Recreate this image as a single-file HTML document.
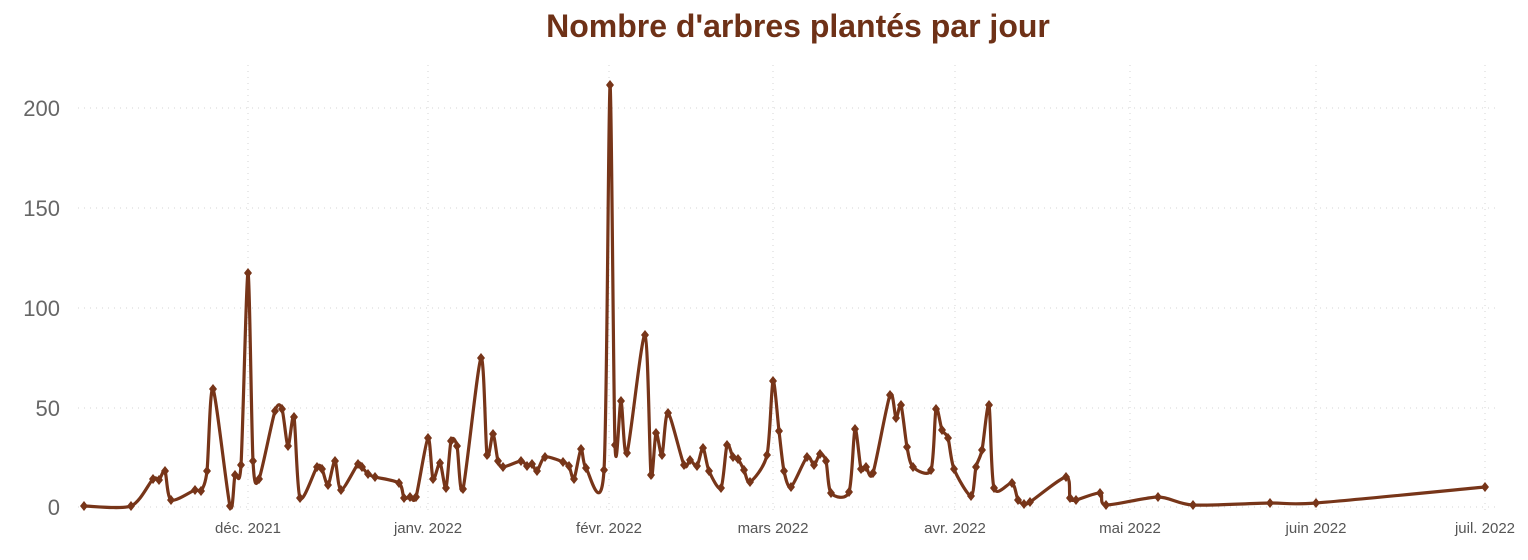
<!DOCTYPE html>
<html><head><meta charset="utf-8"><style>
body{margin:0;background:#fff;width:1528px;height:555px;overflow:hidden;font-family:"Liberation Sans",sans-serif}
</style></head><body>
<svg id="s" width="1528" height="555" xmlns="http://www.w3.org/2000/svg">
<text x="798" y="37" text-anchor="middle" font-family="Liberation Sans, sans-serif" font-weight="bold" font-size="32" fill="#6e3117">Nombre d'arbres plantés par jour</text>
<g stroke="#d6d6d6" stroke-width="1" stroke-dasharray="1,5">
<line x1="78" x2="1500" y1="108" y2="108"/><line x1="78" x2="1500" y1="208" y2="208"/>
<line x1="78" x2="1500" y1="308" y2="308"/><line x1="78" x2="1500" y1="408" y2="408"/>
<line x1="78" x2="1500" y1="507" y2="507"/>
<line x1="248" x2="248" y1="65" y2="510"/><line x1="428" x2="428" y1="65" y2="510"/>
<line x1="609" x2="609" y1="65" y2="510"/><line x1="773" x2="773" y1="65" y2="510"/>
<line x1="955" x2="955" y1="65" y2="510"/><line x1="1130" x2="1130" y1="65" y2="510"/>
<line x1="1316" x2="1316" y1="65" y2="510"/><line x1="1485" x2="1485" y1="65" y2="510"/>
</g>
<g font-size="22" fill="#666" text-anchor="end">
<text x="60" y="116">200</text><text x="60" y="216">150</text><text x="60" y="316">100</text>
<text x="60" y="416">50</text><text x="60" y="515">0</text></g>
<g font-size="15" fill="#555" text-anchor="middle">
<text x="248" y="533">déc. 2021</text><text x="428" y="533">janv. 2022</text>
<text x="609" y="533">févr. 2022</text><text x="773" y="533">mars 2022</text>
<text x="955" y="533">avr. 2022</text><text x="1130" y="533">mai 2022</text>
<text x="1316" y="533">juin 2022</text><text x="1485" y="533">juil. 2022</text></g>
<path id="ln" fill="none" stroke="#773519" stroke-width="3.2" stroke-linejoin="round"/>
<g id="mk" fill="#773519"></g>
</svg>
<script>
var P=[[84,506],[131,506],[153,479],[159,480],[165,471],[171,500],[195,490],[201,491],[207,471],[213,389],[230,506],[235,475],[241,465],[248,273],[253,461],[259,479],[275,411],[282,409],[288,446],[294,417],[300,498],[317,467],[322,469],[328,485],[335,461],[341,490],[358,464],[362,467],[368,474],[375,477],[399,483],[404,498],[410,497],[416,497],[428,438],[433,479],[440,463],[446,488],[451,441],[457,446],[463,489],[481,358],[487,455],[493,434],[498,461],[503,467],[521,461],[527,466],[532,464],[537,471],[545,457],[563,462],[569,466],[574,479],[581,449],[586,468],[604,470],[610,85],[615,445],[621,401],[627,453],[645,335],[651,475],[656,433],[662,455],[668,413],[684,465],[690,460],[697,466],[703,448],[709,471],[721,488],[727,445],[733,457],[738,459],[744,470],[750,482],[767,455],[773,381],[779,431],[784,471],[791,487],[807,457],[814,465],[820,454],[826,461],[831,493],[849,492],[855,429],[861,469],[866,467],[873,473],[890,395],[896,418],[901,405],[907,447],[913,467],[931,470],[936,409],[942,430],[948,438],[954,469],[971,496],[976,467],[982,450],[989,405],[994,488],[1012,483],[1018,500],[1024,504],[1030,502],[1066,477],[1070,498],[1076,500],[1100,493],[1106,505],[1158,497],[1193,505],[1270,503],[1316,503],[1485,487]];
var d="M"+P[0][0]+","+P[0][1];
for(var i=0;i<P.length-1;i++){var p0=P[i-1]||P[i],p1=P[i],p2=P[i+1],p3=P[i+2]||p2,t=0.4/3;
var c1x=p1[0]+(p2[0]-p0[0])*t,c1y=p1[1]+(p2[1]-p0[1])*t,c2x=p2[0]-(p3[0]-p1[0])*t,c2y=p2[1]-(p3[1]-p1[1])*t;
d+=" C"+c1x+","+c1y+" "+c2x+","+c2y+" "+p2[0]+","+p2[1];}
document.getElementById("ln").setAttribute("d",d);
var g=document.getElementById("mk"),h="";
P.forEach(function(p){h+='<polygon points="'+p[0]+','+(p[1]-5)+' '+(p[0]+4)+','+p[1]+' '+p[0]+','+(p[1]+5)+' '+(p[0]-4)+','+p[1]+'"/>';});
g.innerHTML=h;
</script>
</body></html>
